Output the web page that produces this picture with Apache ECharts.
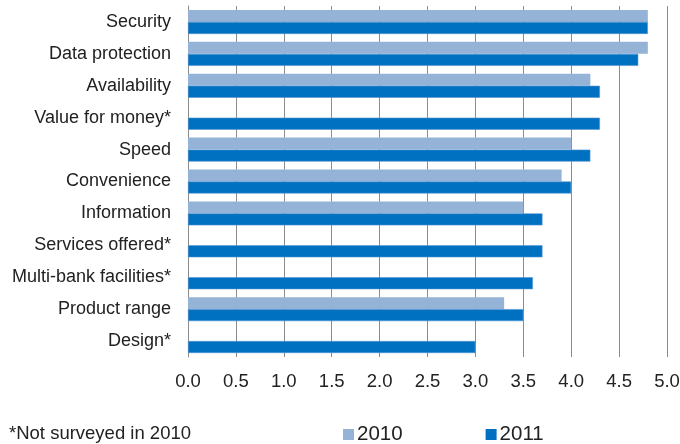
<!DOCTYPE html>
<html>
<head>
<meta charset="utf-8">
<script src="https://cdn.jsdelivr.net/npm/echarts@6/dist/echarts.min.js"></script>
<style>
  html, body { margin: 0; padding: 0; background: #fff; }
  #chart { width: 680px; height: 444px; }
</style>
</head>
<body>
<div id="chart"></div>
<script>
// Ratings of online banking attributes, top to bottom
var categories = [
  'Security', 'Data protection', 'Availability', 'Value for money*', 'Speed',
  'Convenience', 'Information', 'Services offered*', 'Multi-bank facilities*',
  'Product range', 'Design*'
];
// null where the attribute was not surveyed in 2010
var values2010 = [4.8, 4.8, 4.2, null, 4.0, 3.9, 3.5, null, null, 3.3, null];
var values2011 = [4.8, 4.7, 4.3, 4.3, 4.2, 4.0, 3.7, 3.7, 3.6, 3.5, 3.0];
var seriesNames = ['2010', '2011'];
var footnote = '*Not surveyed in 2010';

var FONT = '"Liberation Sans", Arial, sans-serif';
var chart = echarts.init(document.getElementById('chart'), null, { renderer: 'canvas' });

chart.setOption({
  animation: false,
  textStyle: { fontFamily: FONT },
  grid: { left: 188, right: 13, top: 6, bottom: 87, containLabel: false, outerBoundsMode: 'none' },
  legend: {
    data: seriesNames,
    top: 419,
    left: 338,
    itemGap: 83,
    itemWidth: 11,
    itemHeight: 11,
    icon: 'rect',
    itemStyle: { borderWidth: 0 },
    textStyle: { fontFamily: FONT, fontSize: 20.5, color: '#222', padding: [0, 0, 0, -2] }
  },
  graphic: [{
    type: 'text',
    left: 9,
    top: 424,
    style: { text: footnote, font: '18.5px ' + FONT, fill: '#222' }
  }],
  xAxis: {
    type: 'value',
    min: 0,
    max: 5,
    interval: 0.5,
    axisLine: { show: false },
    axisTick: { show: false },
    splitLine: { show: true, lineStyle: { color: '#8c8c8c', width: 1 } },
    axisLabel: {
      color: '#222', fontSize: 18.5, margin: 15,
      formatter: function (v) { return v.toFixed(1); }
    }
  },
  yAxis: {
    type: 'category',
    data: categories,
    inverse: true,
    axisLine: { show: true, lineStyle: { color: '#8c8c8c' } },
    axisTick: { show: false },
    axisLabel: { color: '#222', fontSize: 18, margin: 17 }
  },
  series: [
    {
      name: seriesNames[0],
      type: 'bar',
      data: values2010,
      barWidth: 12,
      barGap: '0%',
      itemStyle: { color: '#95B3D7' }
    },
    {
      name: seriesNames[1],
      type: 'bar',
      data: values2011,
      barWidth: 12,
      barGap: '0%',
      itemStyle: { color: '#0070C0', borderColor: '#4f95d3', borderWidth: 0.6 }
    }
  ]
});
</script>
</body>
</html>
